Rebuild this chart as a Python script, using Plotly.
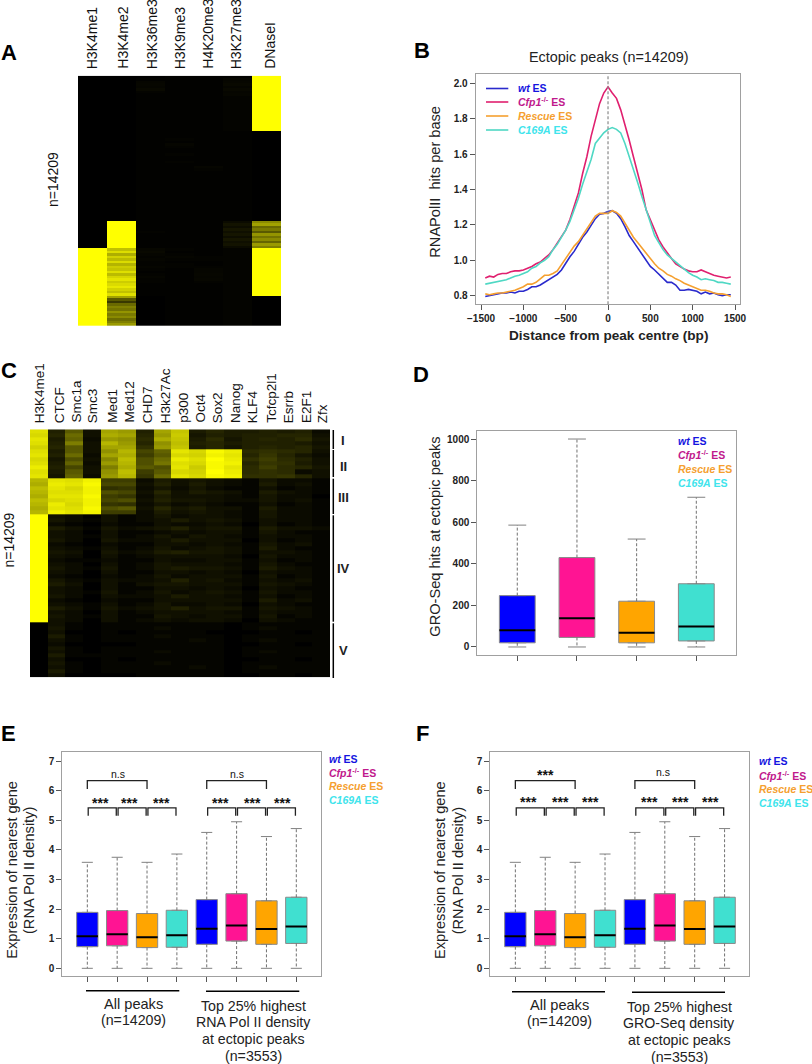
import plotly.graph_objects as go

W, H = 812, 1064
FONT = "Liberation Sans"

# ---------- data ----------
BLUE, PINK, ORANGE, TURQ = "#0000ff", "#ff1493", "#ffa500", "#40e0d0"
FILLS = [BLUE, PINK, ORANGE, TURQ]

A_columns = ["H3K4me1", "H3K4me2", "H3K36me3", "H3K9me3", "H4K20me3", "H3K27me3", "DNaseI"]
A_label_x = [92.3, 122.7, 152.3, 180.3, 207.7, 236.3, 269.3]
K4me2_stripes = [72, 85, 66, 80, 70, 84, 68, 78, 74, 86, 70, 82, 88, 78, 84, 90, 80, 72, 86,
                 62, 40, 30, 45, 52, 48, 58, 50, 55, 46, 52, 60]
DNase_stripes = [55, 62, 45, 50, 40, 58, 48, 55, 44, 60, 52]
A_k4me1 = [0] * 69 + [100] * 31
A_k4me2 = [0] * 58 + [100] * 11 + K4me2_stripes
A_k36 = [0, 1, 3, 4, 3, 5, 2, 1] + [1] * 50 + [1, 1, 1, 1, 2, 1, 1, 1, 1, 1, 1] + [4, 5, 3, 2, 3, 2, 2, 3, 2, 1, 2, 3, 2, 2, 1, 1, 1, 1, 1] + [0] * 12
A_k9 = [1] * 25 + [2, 1, 3, 2, 1, 1, 2, 1, 1, 2] + [1] * 33 + [1, 2, 1, 2, 3, 2, 1, 2, 2, 1, 1, 1] + [1] * 20
A_k20 = [1] * 36 + [3, 2, 1, 1] + [1] * 29 + [1, 1, 1, 2, 2, 1, 1, 2, 3, 3, 4, 3, 4, 2, 1, 1, 1, 1, 1] + [1] * 12
A_k27 = [1, 3, 4, 5, 3, 5, 3, 4] + [2] * 14 + [1] * 36 + [6, 10, 7, 12, 8, 11, 7, 12, 8, 10, 6] + [2] * 31
A_dnase = [100] * 22 + [0] * 36 + DNase_stripes + [100] * 19 + [0] * 12
A_rows = [list(r) for r in zip(A_k4me1, A_k4me2, A_k36, A_k9, A_k20, A_k27, A_dnase)]

C_columns = ["H3K4me1", "CTCF", "Smc1a", "Smc3", "Med1", "Med12", "CHD7", "H3k27Ac", "p300", "Oct4",
             "Sox2", "Nanog", "KLF4", "Tcfcp2l1", "Esrrb", "E2F1", "Zfx"]
C_label_x = [39.3, 59.3, 76, 92.7, 111.7, 129, 147.7, 165.7, 182.7, 200, 217.7, 235, 252.7, 270.7, 288.3, 306, 322.7]
# each character is one cell, 0-9a-z = brightness in 36 levels
C_I = ["u6e3ml6mq57556562", "t7g3nm7lr46566773", "v5f2lk8nq58467684", "u6i3ol7kp67566653", "s7e3mm9lq57467674"]
C_II = ["u5e3kocfvtyw89873", "v6g2mnbetsxv7a742", "t4d3jpdgwuzw9b863", "u5f2lodhutyx7a953",
        "w6c3inedvryv8b874", "u5e3kpbetszw89823", "v4f2loagvtyx99a73"]
C_III = ["ovuxbb25343214221", "nwvycc36353215231", "pvtx9a24242113121", "ouuxdc37354315321", "nvvyba25333214220",
         "ptuxcd36443224231", "owtxa924232113121", "nvuyde37453315221", "oxvxbb25343214221"]
C_IV = ["z3203124233214221", "z4213123534313221", "z2102113223203121", "z5314234634415332", "z3203112323314211",
        "z3213124243213221", "z4204223533303121", "z2102113323214231", "z3213124234315211", "z4304235644313321",
        "z3203123333204221", "z2112113223313121", "z3203124333214211", "z4214124544315321", "z3203113323203221",
        "z2102124233314121", "z4213223634213231", "z5303134433314321", "z3203113323203211", "z3214124234314221",
        "z4203223533213121", "z2102113333315231", "z3213124223203211", "z5314234634414321", "z3203123333213221",
        "z4213114323314121", "z3203123233203211"]
C_V = ["03101111111011111", "04101112111012111", "03001011110001101", "05101112111011111", "03101111121012111",
       "02000011111001101", "04101111111011111", "03101112111012111", "05111111111011111", "03001011111001101",
       "04101112111011111", "03101111121012111", "05101111111011111", "03000011111001101"]
C_clusters = [C_I, C_II, C_III, C_IV, C_V]
C_cluster_names = ["I", "II", "III", "IV", "V"]
C_cluster_sizes = [59, 87, 110, 323, 165]

B_wt = [.795, .80, .805, .81, .815, .815, .82, .815, .825, .825, .835, .85, .85, .86, .875, .89, .905, .92, .945, .985,
        1.02, 1.05, 1.09, 1.13, 1.16, 1.20, 1.235, 1.26, 1.265, 1.275, 1.28, 1.265, 1.235, 1.19, 1.14, 1.105, 1.07, 1.03,
        .995, .965, .945, .92, .895, .875, .875, .86, .83, .83, .835, .83, .825, .81, .82, .81, .815, .805, .80, .805, .805]
B_cfp1 = [.90, .91, .905, .92, .925, .925, .935, .94, .94, .945, .955, .965, .98, .99, 1.01, 1.03, 1.06, 1.095, 1.135, 1.17,
          1.23, 1.30, 1.38, 1.49, 1.585, 1.70, 1.79, 1.885, 1.945, 1.98, 1.945, 1.915, 1.85, 1.77, 1.68, 1.585, 1.49, 1.40,
          1.285, 1.23, 1.17, 1.115, 1.075, 1.04, 1.01, .98, .965, .95, .94, .935, .935, .945, .935, .925, .915, .91, .905, .90, .905]
B_rescue = [.81, .805, .81, .815, .815, .82, .825, .83, .84, .85, .865, .865, .875, .895, .915, .915, .925, .94, .975, 1.015,
            1.05, 1.08, 1.105, 1.14, 1.18, 1.215, 1.25, 1.265, 1.265, 1.265, 1.28, 1.27, 1.25, 1.21, 1.165, 1.13, 1.10, 1.07,
            1.04, 1.005, .98, .955, .94, .92, .91, .895, .885, .87, .86, .85, .84, .83, .83, .825, .815, .81, .81, .805, .795]
B_c169a = [.865, .87, .875, .88, .885, .89, .90, .91, .915, .925, .935, .955, .965, .985, 1.0, 1.02, 1.06, 1.09, 1.13, 1.17,
           1.22, 1.28, 1.35, 1.43, 1.50, 1.57, 1.66, 1.69, 1.72, 1.74, 1.75, 1.74, 1.72, 1.66, 1.59, 1.51, 1.44, 1.36,
           1.29, 1.22, 1.14, 1.10, 1.06, 1.03, 1.01, .985, .97, .95, .93, .915, .905, .89, .895, .89, .885, .875, .875, .87, .865]
B_x = list(range(-1450, 1451, 50))

D_pos = [1, 2, 3, 4]
D_low = [0, 0, 0, 0]
D_q1 = [20, 46, 20, 29]
D_median = [80, 138, 69, 99]
D_q3 = [247, 430, 220, 304]
D_up = [586, 1000, 519, 720]

E_pos = [1, 2, 3, 4, 5, 6, 7, 8]
E_low = [0, 0, 0, 0, 0, 0, 0, 0]
E_q1 = [.73, .76, .70, .71, .81, .92, .81, .84]
E_median = [1.08, 1.15, 1.05, 1.12, 1.34, 1.45, 1.33, 1.41]
E_q3 = [1.89, 1.95, 1.85, 1.96, 2.32, 2.52, 2.28, 2.40]
E_up = [3.58, 3.75, 3.58, 3.86, 4.59, 4.95, 4.45, 4.72]

F_q1 = [.73, .76, .70, .71, .81, .92, .81, .84]
F_median = [1.08, 1.15, 1.05, 1.12, 1.34, 1.45, 1.33, 1.41]
F_q3 = [1.89, 1.95, 1.85, 1.96, 2.32, 2.52, 2.28, 2.40]
F_up = [3.58, 3.75, 3.58, 3.86, 4.59, 4.95, 4.45, 4.72]

LEGEND = [("<i>wt</i> ES", "#1414e0"), ("<i>Cfp1</i><sup>-/-</sup> ES", "#c0188c"),
          ("<i>Rescue</i> ES", "#f5a030"), ("<i>C169A</i> ES", "#40e4ec")]
LINE_COLORS = ["#2a2acc", "#e0206f", "#f5a030", "#4fd8c4"]


# ---------- helpers ----------
def xd(a, b):
    return [a / W, b / W]


def yd(top, bot):
    return [1 - bot / H, 1 - top / H]


fig = go.Figure()
anns, shapes = [], []


def text(t, x, y, size=14, anchor="center", yanchor="middle", angle=0, color="#111", bold=False):
    # positions are page pixels on the full-page overlay axes x7/y7
    anns.append(dict(text=t, x=x, y=y, xref="x7", yref="y7", showarrow=False, xanchor=anchor,
                     yanchor=yanchor, textangle=angle, align="center",
                     font=dict(family=FONT, size=size, color=color, weight="bold" if bold else "normal")))


def pline(x0, y0, x1, y1, color="#000", width=1.5, dash="solid"):
    shapes.append(dict(type="line", xref="paper", yref="paper", x0=x0 / W, x1=x1 / W, y0=1 - y0 / H, y1=1 - y1 / H,
                       line=dict(color=color, width=width, dash=dash)))


def frame_axis(dom, **kw):
    d = dict(domain=dom, showline=True, mirror=True, linecolor="#a0a0a0", linewidth=1, showgrid=False, zeroline=False,
             ticks="outside", ticklen=5, tickcolor="#555", tickwidth=1,
             tickfont=dict(family=FONT, size=10, color="#222", weight="bold"))
    d.update(kw)
    return d


def add_boxes(n, pos, low, q1, med, q3, up, box_w, cap_w):
    xa, ya = f"x{n}", f"y{n}"
    for i, p in enumerate(pos):
        color = FILLS[i % 4]
        fig.add_trace(go.Scatter(x=[p, p, None, p, p], y=[q3[i], up[i], None, q1[i], low[i]], mode="lines", xaxis=xa, yaxis=ya,
                                 line=dict(color="#707070", width=1, dash="3px,2px"), hoverinfo="skip"))
        fig.add_trace(go.Scatter(x=[p - cap_w / 2, p + cap_w / 2, None, p - cap_w / 2, p + cap_w / 2],
                                 y=[up[i], up[i], None, low[i], low[i]], mode="lines", xaxis=xa, yaxis=ya,
                                 line=dict(color="#808080", width=1), hoverinfo="skip"))
        fig.add_trace(go.Box(x=[p], q1=[q1[i]], median=[med[i]], q3=[q3[i]], lowerfence=[q1[i]], upperfence=[q3[i]],
                             width=box_w, xaxis=xa, yaxis=ya, fillcolor=color, line=dict(color="#8a8a8a", width=1),
                             hoverinfo="skip", boxpoints=False))
        fig.add_trace(go.Scatter(x=[p - box_w / 2, p + box_w / 2], y=[med[i], med[i]], mode="lines", xaxis=xa, yaxis=ya,
                                 line=dict(color="#000", width=2), hoverinfo="skip"))


def brackets(n, spans, top, foot, gap=0.03):
    xs, ys = [], []
    for a, b in spans:
        xs += [a + gap, a + gap, b - gap, b - gap, None]
        ys += [foot, top, top, foot, None]
    fig.add_trace(go.Scatter(x=xs, y=ys, mode="lines", xaxis=f"x{n}", yaxis=f"y{n}",
                             line=dict(color="#222", width=1.3), hoverinfo="skip"))


def legend_text(x, ys, size=10.5):
    for (t, c), y in zip(LEGEND, ys):
        text(t, x, y, size=size, anchor="left", color=c, bold=True)


def data_text(n, t, x, y, size, bold=False, yshift=0):
    anns.append(dict(text=t, x=x, y=y, xref=f"x{n}", yref=f"y{n}", showarrow=False, yshift=yshift,
                     font=dict(family=FONT, size=size, color="#111", weight="bold" if bold else "normal")))


SCALE = [[0, "#000000"], [0.3, "#383800"], [0.7, "#bbbb00"], [1, "#ffff00"]]

# ---------- panel A ----------
fig.add_trace(go.Heatmap(z=A_rows, colorscale=SCALE, zmin=0, zmax=100, showscale=False, xaxis="x", yaxis="y", hoverinfo="skip"))
for name, x in zip(A_columns, A_label_x):
    text(name, x, 71, size=14, yanchor="bottom", angle=-90)
text("n=14209", 53, 180, size=14, angle=-90)
text("A", 9, 52.7, size=22, bold=True, color="#000")

# ---------- panel C ----------
C_digits = "0123456789abcdefghijklmnopqrstuvwxyz"
C_rows, C_edges, pos_c = [], [0], 0
for rows, size in zip(C_clusters, C_cluster_sizes):
    for r in rows:
        C_rows.append([C_digits.index(ch) for ch in r])
        pos_c += size / len(rows)
        C_edges.append(pos_c)
fig.add_trace(go.Heatmap(z=C_rows, y=C_edges, colorscale=SCALE, zmin=0, zmax=35, showscale=False, xaxis="x2", yaxis="y2", hoverinfo="skip"))
for name, x in zip(C_columns, C_label_x):
    text(name, x, 425, size=13.5, yanchor="bottom", angle=-90)
text("n=14209", 8.5, 540, size=14, angle=-90)
text("C", 9, 370, size=22, bold=True, color="#000")
bar_spans = [(430, 449), (450, 477), (478.7, 514), (515.3, 621.7), (623.3, 678)]
label_y = [440.7, 466, 497.3, 568, 650]
for (a, b), name, y in zip(bar_spans, C_cluster_names, label_y):
    pline(333.3, a, 333.3, b, width=1.5)
    text(name, 343.3, y, size=13, bold=True, color="#222")

# ---------- panel B ----------
for s, c in zip([B_wt, B_cfp1, B_rescue, B_c169a], LINE_COLORS):
    fig.add_trace(go.Scatter(x=B_x, y=s, mode="lines", xaxis="x3", yaxis="y3", line=dict(color=c, width=1.6), hoverinfo="skip"))
shapes.append(dict(type="line", xref="x3", yref="y3 domain", x0=0, x1=0, y0=0, y1=1, line=dict(color="#8a8a8a", width=1.2, dash="3px,2px")))
text("Ectopic peaks (n=14209)", 609.3, 56.7, size=14.4, color="#222")
text("RNAPolII  hits per base", 435, 181.7, size=14.6, angle=-90, color="#222")
text("Distance from peak centre (bp)", 608.3, 335, size=13.6, bold=True, color="#222")
text("B", 421.7, 50.7, size=22, bold=True, color="#000")
legend_text(516, [88, 101.7, 115.7, 130])
for y, c in zip([88.5, 102, 116, 130], LINE_COLORS):
    pline(486, y, 508.3, y, color=c, width=1.6)

# ---------- panel D ----------
add_boxes(4, D_pos, D_low, D_q1, D_median, D_q3, D_up, 0.6, 0.3)
text("GRO-Seq hits at ectopic peaks", 435, 536.7, size=14.6, angle=-90, color="#222")
text("D", 421, 374, size=22, bold=True, color="#000")
legend_text(676, [440.7, 454.7, 468.7, 482.7])

# ---------- panels E and F ----------
add_boxes(5, E_pos, E_low, E_q1, E_median, E_q3, E_up, 0.715, 0.37)
add_boxes(6, E_pos, E_low, F_q1, F_median, F_q3, F_up, 0.715, 0.37)
for n in (5, 6):
    brackets(n, [(1, 3), (5, 7)], 6.34, 6.06, gap=0)
    brackets(n, [(1, 2), (2, 3), (3, 4), (5, 6), (6, 7), (7, 8)], 5.42, 5.15)

for x, y in zip([1.43, 2.42, 3.48, 5.47, 6.54, 7.54], [5.57] * 6):
    data_text(5, "***", x, y, 14, bold=True, yshift=0)
data_text(5, "n.s", 2.02, 6.55, 10.5)
data_text(5, "n.s", 6.03, 6.55, 10.5)
for x, y in zip([1.44, 2.52, 3.51, 5.48, 6.54, 7.53], [5.62] * 6):
    data_text(6, "***", x, y, 14, bold=True, yshift=0)
data_text(6, "***", 2.0, 6.57, 14, bold=True, yshift=-1)
data_text(6, "n.s", 5.95, 6.62, 10.5)

panels = [
    dict(letter="E", lx=8, y_off=0, lines=[(86, 179.3, 990.7), (206, 299.3, 991.3)], c1=133, c2=253, t2="RNA Pol II density",
         tx=(11.7, 29), lgx=327.3, lgy=[758.7, 772.3, 786, 800]),
    dict(letter="F", lx=422.7, y_off=1, lines=[(512, 605, 991.7), (632, 725, 992.3)], c1=559, c2=679, t2="GRO-Seq density",
         tx=(440, 458.3), lgx=757.3, lgy=[761, 775, 788.7, 802.7]),
]
for p in panels:
    for a, b, y in p["lines"]:
        pline(a, y, b, y, width=1.6)
    text("All peaks", p["c1"], 1003.7 + p["y_off"], size=14.6, color="#222")
    text("(n=14209)", p["c1"], 1020 + p["y_off"], size=14.2, color="#222")
    for line, yy in zip(["Top 25% highest", p["t2"], "at ectopic peaks", "(n=3553)"], [1005.7, 1022.3, 1039, 1055.7]):
        text(line, p["c2"], yy + p["y_off"], size=14.2, color="#222")
    text("Expression of nearest gene", p["tx"][0], 870, size=14.6, angle=-90, color="#222")
    text("(RNA Pol II density)", p["tx"][1], 871, size=14.6, angle=-90, color="#222")
    text(p["letter"], p["lx"], 733, size=22, bold=True, color="#000")
    legend_text(p["lgx"], p["lgy"])

# invisible full-page axes that carry the text
fig.add_trace(go.Scatter(x=[None], y=[None], mode="lines", xaxis="x7", yaxis="y7", hoverinfo="skip"))

# ---------- axes ----------
box_ticks = dict(tickmode="array", showticklabels=False)
fig.update_layout(
    width=W, height=H, margin=dict(l=0, r=0, t=0, b=0, autoexpand=False), autosize=False, showlegend=False, boxmode="overlay",
    paper_bgcolor="white", plot_bgcolor="rgba(0,0,0,0)", font=dict(family=FONT),
    annotations=anns, shapes=shapes,
    xaxis=dict(domain=xd(78, 281), visible=False, anchor="y"),
    yaxis=dict(domain=yd(75.7, 326), visible=False, autorange="reversed", anchor="x"),
    xaxis2=dict(domain=xd(30, 330), visible=False, anchor="y2"),
    yaxis2=dict(domain=yd(429.3, 677.3), visible=False, autorange="reversed", anchor="x2"),
    xaxis3=frame_axis(xd(475.7, 740), anchor="y3", range=[-1563, 1559], tickmode="array",
                      tickvals=[-1500, -1000, -500, 0, 500, 1000, 1500]),
    yaxis3=frame_axis(yd(74.3, 304.3), anchor="x3", range=[0.751, 2.051], tickmode="array",
                      tickvals=[.8, 1.0, 1.2, 1.4, 1.6, 1.8, 2.0], tickformat=".1f"),
    xaxis4=frame_axis(xd(477.3, 736), anchor="y4", range=[.33, 4.665], tickvals=D_pos, **box_ticks),
    yaxis4=frame_axis(yd(430.7, 655.3), anchor="x4", range=[-40, 1040], tickmode="array", tickvals=[0, 200, 400, 600, 800, 1000]),
    xaxis5=frame_axis(xd(62.3, 320.7), anchor="y5", range=[.162, 8.817], tickvals=E_pos, **box_ticks),
    yaxis5=frame_axis(yd(752.3, 976.3), anchor="x5", range=[-.27, 7.296], tickmode="array", tickvals=[0, 1, 2, 3, 4, 5, 6, 7]),
    xaxis6=frame_axis(xd(490.3, 749), anchor="y6", range=[.162, 8.817], tickvals=E_pos, **box_ticks),
    yaxis6=frame_axis(yd(752.3, 976.3), anchor="x6", range=[-.27, 7.296], tickmode="array", tickvals=[0, 1, 2, 3, 4, 5, 6, 7]),
    xaxis7=dict(domain=[0, 1], range=[0, W], visible=False, anchor="y7", fixedrange=True),
    yaxis7=dict(domain=[0, 1], range=[H, 0], visible=False, anchor="x7", fixedrange=True),
)
fig.write_html("out.html", config={"displayModeBar": False}, post_script="document.body.style.margin='0';")
